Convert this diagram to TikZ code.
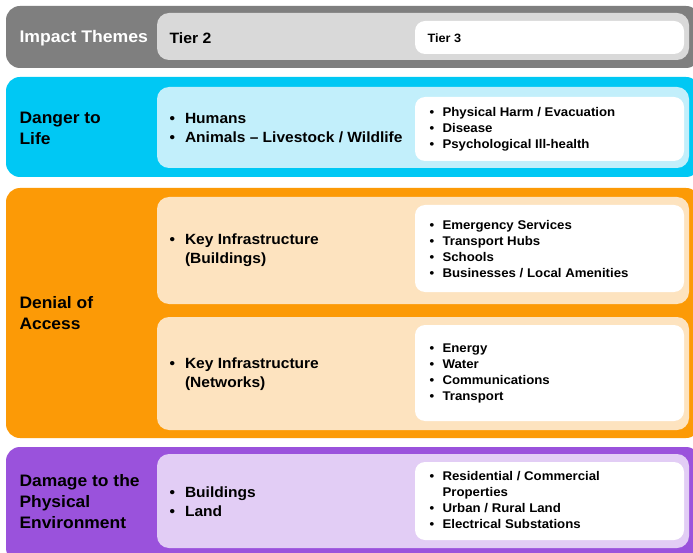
\documentclass[tikz,border=0pt]{standalone}
\usepackage{fontspec}
\setmainfont[FakeStretch=1.05]{Liberation Sans}
\begin{document}
\definecolor{grayout}{HTML}{7F7F7F}
\definecolor{grayin}{HTML}{D9D9D9}
\definecolor{blueout}{HTML}{00C8F4}
\definecolor{bluein}{HTML}{C2EFFB}
\definecolor{orangeout}{HTML}{FC9A06}
\definecolor{orangein}{HTML}{FDE3BF}
\definecolor{purpleout}{HTML}{9A52DC}
\definecolor{purplein}{HTML}{E2CDF5}
\newcommand{\bul}{\makebox[15.5pt][l]{•}}
\newcommand{\bulS}{\makebox[13pt][l]{•}}
\begin{tikzpicture}[x=1pt,y=-1pt,
  band/.style={rounded corners=14pt},
  tiertwo/.style={rounded corners=12pt},
  tierthree/.style={fill=white,rounded corners=10pt},
  theme/.style={anchor=west,align=left,font=\bfseries\fontsize{16.6}{21}\selectfont},
  t2text/.style={anchor=west,align=left,font=\bfseries\fontsize{14.8}{19}\selectfont},
  t3text/.style={anchor=west,align=left,font=\bfseries\fontsize{12.6}{16}\selectfont}]
\useasboundingbox (0,0) rectangle (693,553);
\fill[white] (0,0) rectangle (693,553);

% header band
\fill[grayout,band] (6,6) rectangle (700,68);
\fill[grayin,tiertwo] (157,13) rectangle (689,60);
\fill[tierthree] (415,21) rectangle (684,54);
\node[theme,text=white,font=\bfseries\fontsize{16.8}{19}\selectfont] (hdr) at (16,38) {Impact Themes};
\node[t2text,font=\bfseries\fontsize{15}{18}\selectfont] (hdr2) at (166,38) {Tier 2};
\node[t3text,font=\bfseries\fontsize{12.1}{16}\selectfont] (hdr3) at (424,38) {Tier 3};

% danger to life
\fill[blueout,band] (6,77) rectangle (700,177);
\fill[bluein,tiertwo] (157,87) rectangle (689,168);
\fill[tierthree] (415,97) rectangle (684,161);
\node[theme] (life) at (16,128) {Danger to\\Life};
\node[t2text] (life2) at (166,128) {\bul Humans\\\bul Animals – Livestock / Wildlife};
\node[t3text] (life3) at (426,129) {\bulS Physical Harm / Evacuation\\\bulS Disease\\\bulS Psychological Ill-health};

% denial of access
\fill[orangeout,band] (6,188) rectangle (700,438);
\fill[orangein,tiertwo] (157,197) rectangle (689,304);
\fill[tierthree] (415,205) rectangle (684,292);
\fill[orangein,tiertwo] (157,317) rectangle (689,430);
\fill[tierthree] (415,325) rectangle (684,421);
\node[theme] (access) at (16,313) {Denial of\\Access};
\node[t2text] (acc2a) at (166,250) {\bul Key Infrastructure\\\hspace*{15.5pt}(Buildings)};
\node[t3text] (acc3a) at (426,249) {\bulS Emergency Services\\\bulS Transport Hubs\\\bulS Schools\\\bulS Businesses / Local Amenities};
\node[t2text] (acc2b) at (166,374) {\bul Key Infrastructure\\\hspace*{15.5pt}(Networks)};
\node[t3text] (acc3b) at (426,373) {\bulS Energy\\\bulS Water\\\bulS Communications\\\bulS Transport};

% damage to the physical environment
\fill[purpleout,band] (6,447) rectangle (700,562);
\fill[purplein,tiertwo] (157,454) rectangle (689,548);
\fill[tierthree] (415,462) rectangle (684,540);
\node[theme] (env) at (16,502) {Damage to the\\Physical\\Environment};
\node[t2text] (env2) at (166,502) {\bul Buildings\\\bul Land};
\node[t3text] (env3) at (426,500) {\bulS Residential / Commercial\\\hspace*{13pt}Properties\\\bulS Urban / Rural Land\\\bulS Electrical Substations};
\end{tikzpicture}
\end{document}
